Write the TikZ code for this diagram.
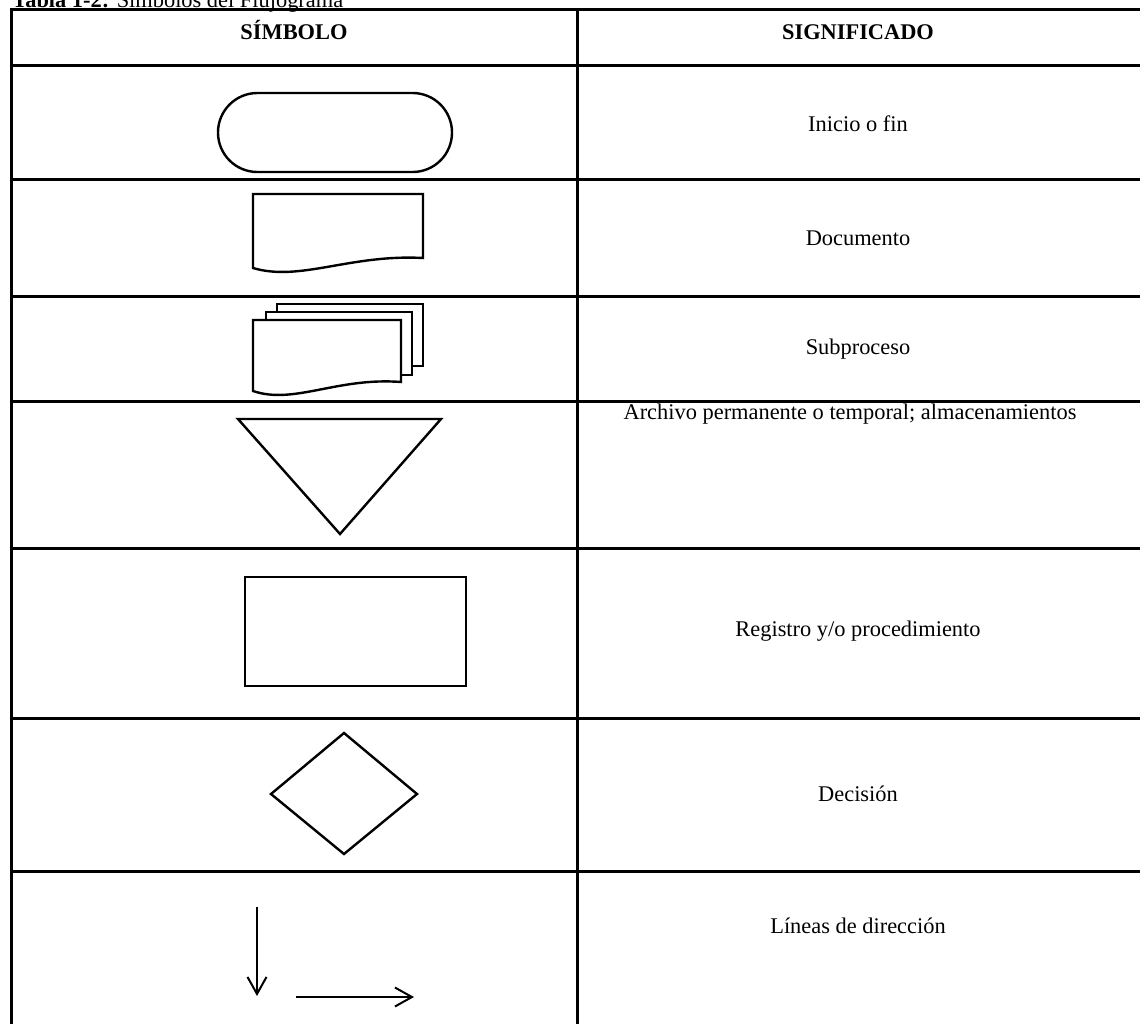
\documentclass[tikz,border=0pt]{standalone}
\usepackage{fontspec}
\setmainfont{Liberation Serif}
\usetikzlibrary{arrows.meta}
\begin{document}
\begin{tikzpicture}[x=0.5pt,y=-0.5pt]
        \tikzset{rule/.style={line width=1.5pt},
                 sym/.style={line width=1.2pt,fill=white},
                 dirline/.style={line width=1pt,-{Straight Barb[length=8.5pt,width=9.5pt]}},
                 txt/.style={inner sep=0pt,font=\fontsize{11.2}{13}\selectfont},
                 head/.style={inner sep=0pt,anchor=base,font=\fontsize{11.2}{13}\selectfont\bfseries}}
        \useasboundingbox (0,0) rectangle (1140,1023);
        \clip (0,0) rectangle (1140,1023);
        \node[txt,anchor=base west] (title) at (12,7) {\textbf{Tabla 1-2:} Símbolos del Flujograma};
        % table frame and rules
        \draw[rule] (11,9) rectangle (1142,1027);
        \draw[rule] (577,9) -- (577,1027);
        \foreach \y in {65,179,296,401,548,718,871}
            \draw[rule] (11,\y) -- (1142,\y);
        \node[head] (simbolo) at (294,39) {SÍMBOLO};
        \node[head] (significado) at (858,39) {SIGNIFICADO};
        % inicio o fin
        \draw[sym,rounded corners=19.7pt] (218,93) rectangle (452,172);
        \node[txt] (inicio) at (858,124) {Inicio o fin};
        % documento
        \draw[sym] (253,268) -- (253,194) -- (423,194) -- (423,258) .. controls (350,254) and (300,282) .. (253,268) -- cycle;
        \node[txt] (documento) at (858,238) {Documento};
        % subproceso
        \begin{scope}
            \draw[sym] (277,304) rectangle (423,366);
            \draw[sym] (266,312) rectangle (412,375);
            \draw[sym] (253,391) -- (253,320) -- (401,320) -- (401,382) .. controls (337,377) and (294,405) .. (253,391) -- cycle;
        \end{scope}
        \node[txt] (subproceso) at (858,349) {Subproceso};
        % archivo
        \draw[sym] (238,419) -- (441,419) -- (340,534) -- cycle;
        \node[txt] (archivo) at (850,414) {Archivo permanente o temporal; almacenamientos};
        % registro
        \draw[sym] (245,577) rectangle (466,686);
        \node[txt] (registro) at (858,631) {Registro y/o procedimiento};
        % decision
        \draw[sym] (271,794) -- (344,733) -- (417,794) -- (344,854) -- cycle;
        \node[txt] (decision) at (858,794) {Decisión};
        % lineas de direccion
        \coordinate (vtop) at (257,907);
        \coordinate (vend) at (257,996);
        \coordinate (hstart) at (296,997);
        \coordinate (hend) at (414,997);
        \draw[dirline] (vtop) -- (vend);
        \draw[dirline] (hstart) -- (hend);
        \node[txt] (lineas) at (858,926) {Líneas de dirección};
    \end{tikzpicture}
\end{document}
